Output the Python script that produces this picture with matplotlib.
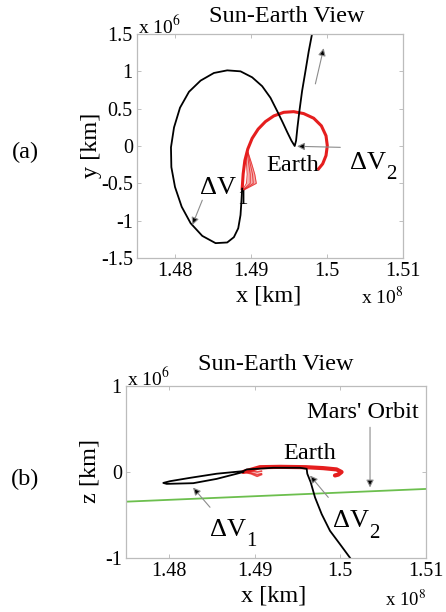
import numpy as np
import matplotlib.pyplot as plt
from matplotlib.ticker import FuncFormatter

plt.rcParams['font.family'] = ['Liberation Serif', 'DejaVu Serif']
plt.rcParams['mathtext.fontset'] = 'stix'

# x in units of 1e8 km, y / z in units of 1e6 km
# (a) x-y projection
black_xy_x = [1.49803, 1.49759, 1.49716, 1.49672, 1.49637, 1.49611, 1.49593, 1.49575,
              1.49532, 1.49479, 1.49418, 1.49344, 1.49256, 1.49147, 1.49015, 1.48862,
              1.48687, 1.48512, 1.48337, 1.48184, 1.48066, 1.47987, 1.47947, 1.47952,
              1.48000, 1.48088, 1.48206, 1.48359, 1.48534, 1.48687, 1.48775, 1.48832,
              1.48862, 1.48875, 1.48884]
black_xy_y = [1.50, 1.265, 1.00, 0.735, 0.469, 0.248, 0.071, 0.0,
              0.071, 0.181, 0.314, 0.469, 0.646, 0.801, 0.920, 1.0,
              1.013, 0.978, 0.876, 0.726, 0.513, 0.248, -0.018, -0.283,
              -0.549, -0.814, -1.035, -1.204, -1.301, -1.292, -1.221, -1.102,
              -0.925, -0.726, -0.571]
red_xy_x = [1.48884, 1.48897, 1.48919, 1.48958, 1.49015, 1.49094, 1.49190, 1.49300,
            1.49431, 1.49562, 1.49694, 1.49825, 1.49926, 1.49987, 1.50004, 1.49987,
            1.49943, 1.49890]
red_xy_y = [-0.571, -0.372, -0.195, -0.04, 0.102, 0.226, 0.327, 0.403,
            0.451, 0.460, 0.434, 0.372, 0.270, 0.137, 0.004, -0.128,
            -0.239, -0.305]
fan_xy_y = [-0.60, -0.50, -0.38, -0.24, -0.08]
fan_xy_x = [[1.48884, 1.4907, 1.4905, 1.4901, 1.4896],
            [1.48884, 1.4903, 1.4902, 1.4899, 1.4896],
            [1.48884, 1.4899, 1.4899, 1.4897, 1.4895],
            [1.48884, 1.4894, 1.4895, 1.4894, 1.4894]]

# (b) x-z projection
black_xz_x = [1.50113, 1.49997, 1.49880, 1.49783, 1.49705, 1.49655, 1.49615, 1.49608,
              1.49530, 1.49218, 1.48908, 1.48868, 1.48558, 1.48247, 1.48013, 1.47935,
              1.47975, 1.48285, 1.48558, 1.48792, 1.48868]
black_xz_z = [-0.997, -0.84, -0.684, -0.49, -0.295, -0.12, -0.02, 0.037,
              0.049, 0.049, 0.03, 0.01, -0.02, -0.068, -0.107, -0.127,
              -0.138, -0.13, -0.08, -0.02, 0.0]
red_xz_x = [1.48868, 1.49063, 1.4930, 1.4960, 1.49800, 1.49957, 1.50015, 1.49977, 1.49938]
red_xz_z = [0.0, 0.056, 0.060, 0.056, 0.045, 0.03, 0.0, -0.03, -0.04]
fan_xz_x = [1.48868, 1.4896, 1.4903, 1.4908]
fan_xz_z = [[0.0, -0.02, -0.05, -0.03],
            [0.0, -0.01, -0.03, -0.02],
            [0.0, 0.01, 0.0, 0.01]]
mars_x = [1.475, 1.51]
mars_z = [-0.345, -0.197]

xticks = [1.48, 1.49, 1.50, 1.51]

W, H = 446, 612
fig = plt.figure(figsize=(W / 100, H / 100), dpi=100)
ax1 = fig.add_axes([137 / W, 1 - 258 / H, 266 / W, 224 / H])
ax2 = fig.add_axes([126 / W, 1 - 558 / H, 300 / W, 172 / H])

red = '#e51e1e'
arrow_kw = dict(arrowstyle='-|>', edgecolor='#8c8c8c', facecolor='black',
                lw=0.8, mutation_scale=11, shrinkA=0, shrinkB=0)


def km(vals, scale):
    return np.array(vals) * scale


def style(ax, yticks):
    ax.set_xlim(1.475e8, 1.51e8)
    ax.set_xticks(km(xticks, 1e8))
    ax.set_yticks(km(yticks, 1e6))
    ax.xaxis.set_major_formatter(FuncFormatter(lambda v, p: '%g' % round(v / 1e8, 4)))
    ax.yaxis.set_major_formatter(FuncFormatter(lambda v, p: '%g' % round(v / 1e6, 4)))
    ax.tick_params(direction='in', length=3, width=0.6, color='#b5b5b5',
                   labelsize=14.5, top=True, right=True, pad=3)
    for s in ax.spines.values():
        s.set_color('#bcbcbc')
        s.set_linewidth(0.9)


def delta_v(ax, x, y, sub):
    # "ΔV" with a large, low subscript, baseline at (x, y)
    ax.text(x, y, '\u0394V', fontsize=19, ha='center', va='baseline')
    ax.annotate(sub, xy=(x, y), xytext=(13.5, -7.5), textcoords='offset points',
                fontsize=15, ha='left', va='baseline')


# ---- (a)
for fx in fan_xy_x:
    ax1.plot(km(fx, 1e8), km(fan_xy_y, 1e6), color=red, lw=0.7, alpha=0.8)
ax1.fill_betweenx(km(fan_xy_y, 1e6), km(fan_xy_x[3], 1e8), km(fan_xy_x[0], 1e8),
                  color=red, alpha=0.35, lw=0)
ax1.plot(km(red_xy_x, 1e8), km(red_xy_y, 1e6), color=red, lw=2.2)
ax1.plot(km(black_xy_x, 1e8), km(black_xy_y, 1e6), color='black', lw=1.3)
ax1.set_ylim(-1.5e6, 1.5e6)
style(ax1, [-1.5, -1, -0.5, 0, 0.5, 1, 1.5])

ax1.annotate('', xy=(1.48228e8, -1.058e6), xytext=(1.48359e8, -0.726e6), arrowprops=arrow_kw)
ax1.annotate('', xy=(1.49606e8, -0.004e6), xytext=(1.50175e8, -0.018e6), arrowprops=arrow_kw)
ax1.annotate('', xy=(1.49956e8, 1.31e6), xytext=(1.49847e8, 0.832e6), arrowprops=arrow_kw)
delta_v(ax1, 1.48565e8, -0.637e6, '1')
ax1.text(1.49549e8, -0.261e6, 'Earth', fontsize=17.5, ha='center', va='center')
delta_v(ax1, 1.50534e8, -0.305e6, '2')

# ---- (b)
for fz in fan_xz_z:
    ax2.plot(km(fan_xz_x, 1e8), km(fz, 1e6), color=red, lw=1.2, alpha=0.8)
ax2.plot(km(mars_x, 1e8), km(mars_z, 1e6), color='#6cbf4e', lw=1.3)
ax2.plot(km(red_xz_x, 1e8), km(red_xz_z, 1e6), color=red, lw=3.0, solid_capstyle='round')
ax2.plot(km(black_xz_x, 1e8), km(black_xz_z, 1e6), color='black', lw=1.3)
ax2.set_ylim(-1e6, 1e6)
style(ax2, [-1, 0, 1])

ax2.annotate('', xy=(1.48282e8, -0.181e6), xytext=(1.4848e8, -0.41e6), arrowprops=arrow_kw)
ax2.annotate('', xy=(1.49647e8, -0.041e6), xytext=(1.4986e8, -0.295e6), arrowprops=arrow_kw)
ax2.annotate('', xy=(1.50347e8, -0.18e6), xytext=(1.50347e8, 0.52e6), arrowprops=arrow_kw)
ax2.text(1.50265e8, 0.696e6, "Mars' Orbit", fontsize=17.5, ha='center', va='center')
ax2.text(1.49647e8, 0.216e6, 'Earth', fontsize=17.5, ha='center', va='center')
delta_v(ax2, 1.48686e8, -0.743e6, '1')
delta_v(ax2, 1.50123e8, -0.645e6, '2')

# titles, labels, multipliers
fig.text(287 / W, 1 - 17 / H, 'Sun-Earth View', fontsize=17.5, ha='center', va='center')
fig.text(276 / W, 1 - 364 / H, 'Sun-Earth View', fontsize=17.5, ha='center', va='center')
fig.text(269 / W, 1 - 296 / H, 'x [km]', fontsize=17.5, ha='center', va='center')
fig.text(274 / W, 1 - 596 / H, 'x [km]', fontsize=17.5, ha='center', va='center')
fig.text(91 / W, 1 - 145 / H, 'y [km]', fontsize=17.5, rotation=90, ha='center', va='center')
fig.text(90 / W, 1 - 471 / H, 'z [km]', fontsize=17.5, rotation=90, ha='center', va='center')
fig.text(25 / W, 1 - 152 / H, '(a)', fontsize=17.5, ha='center', va='center')
fig.text(25 / W, 1 - 479 / H, '(b)', fontsize=17.5, ha='center', va='center')
fig.text(138 / W, 1 - 26 / H, r'x 10$^6$', fontsize=14, ha='left', va='center')
fig.text(127 / W, 1 - 378 / H, r'x 10$^6$', fontsize=14, ha='left', va='center')
fig.text(403 / W, 1 - 297 / H, r'x 10$^8$', fontsize=14, ha='right', va='center')
fig.text(426 / W, 1 - 600 / H, r'x 10$^8$', fontsize=13.5, ha='right', va='center')

fig.savefig('out.png', dpi=100)
